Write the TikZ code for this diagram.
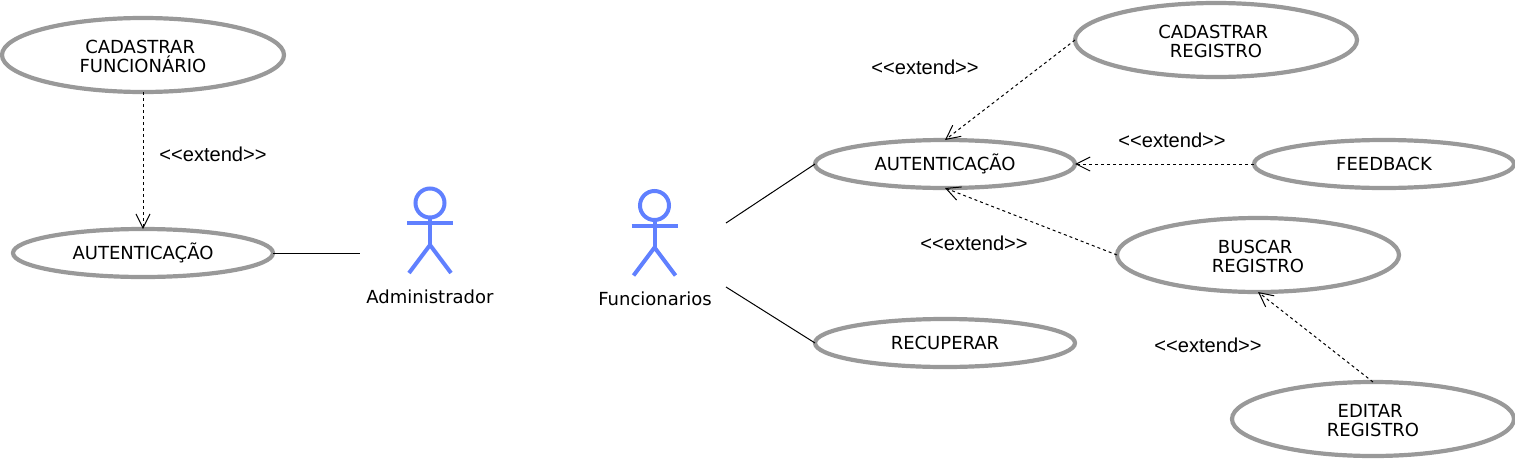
\documentclass[tikz,border=0pt]{standalone}
\usepackage{fontspec}
\setmainfont{DejaVu Sans}
\newfontfamily\extfont{Liberation Sans}
\usetikzlibrary{shapes.geometric,arrows.meta}
\definecolor{ucgray}{HTML}{999999}
\definecolor{actorblue}{HTML}{6080FF}
\newcommand{\twolines}[2]{\rule{0pt}{16pt}#1\hspace*{5.7pt}\\#2}
\tikzset{
  bigcase/.style={ellipse,draw=ucgray,line width=4.2pt,fill=white,inner sep=0pt,outer sep=0pt,minimum width=282pt,minimum height=74pt,align=center,font=\fontsize{18}{18.5}\selectfont},
  smallcase/.style={bigcase,minimum width=260pt,minimum height=48pt},
  extlabel/.style={font=\extfont\fontsize{20.1}{22}\selectfont,inner sep=0pt},
  actorlabel/.style={font=\fontsize{18}{20}\selectfont,inner sep=0pt},
  assoc/.style={line width=1pt,black},
  extarrow/.style={line width=1pt,black,dash pattern=on 3pt off 3pt,-{Straight Barb[length=14pt,width=14pt,line width=1pt]}},
  actorline/.style={line width=4pt,actorblue},
  pics/stick/.style={code={
    \draw[actorline] (0,-20) circle (14.5);
    \draw[actorline] (-23,0) -- (23,0);
    \draw[actorline] (0,-5.5) -- (0,22);
    \draw[actorline] (-21,50) -- (0,22) -- (21,50);
  }}
}
\begin{document}
\begin{tikzpicture}[x=1pt,y=-1pt]
\useasboundingbox (0,0) rectangle (1515,458);
\node[bigcase] (cadfunc) at (143,55) {\twolines{CADASTRAR}{FUNCIONÁRIO}};
\node[smallcase] (autadm) at (143,253) {AUTENTICAÇÃO};
\node[smallcase] (autfun) at (945,164) {AUTENTICAÇÃO};
\node[bigcase] (cadreg) at (1216,40) {\twolines{CADASTRAR}{REGISTRO}};
\node[smallcase] (feedback) at (1384,164) {FEEDBACK};
\node[bigcase] (buscar) at (1258,255) {\twolines{BUSCAR}{REGISTRO}};
\node[smallcase] (recuperar) at (945,343) {RECUPERAR};
\node[bigcase] (editar) at (1373,419) {\twolines{EDITAR}{REGISTRO}};
\pic at (430,223) {stick};
\pic at (654.5,225.5) {stick};
\node[actorlabel] (admlabel) at (430,297) {Administrador};
\node[actorlabel] (funlabel) at (655,299) {Funcionarios};
\coordinate (admend) at (360,253);
\coordinate (funup) at (726,223);
\coordinate (fundown) at (726,287);
\draw[assoc] (autadm.east) -- (admend);
\draw[assoc] (funup) -- (autfun.west);
\draw[assoc] (fundown) -- (recuperar.west);
\draw[extarrow] (cadfunc.south) -- (autadm.north);
\draw[extarrow] (cadreg.west) -- (autfun.north);
\draw[extarrow] (feedback.west) -- (autfun.east);
\draw[extarrow] (buscar.west) -- (autfun.south);
\draw[extarrow] (editar.north) -- (buscar.south);
\node[extlabel] (e1) at (213,154.5) {<{}<extend>{}>};
\node[extlabel] (e2) at (925,67.5) {<{}<extend>{}>};
\node[extlabel] (e3) at (1172,140.5) {<{}<extend>{}>};
\node[extlabel] (e4) at (974,243.5) {<{}<extend>{}>};
\node[extlabel] (e5) at (1208,345.5) {<{}<extend>{}>};
\end{tikzpicture}
\end{document}
